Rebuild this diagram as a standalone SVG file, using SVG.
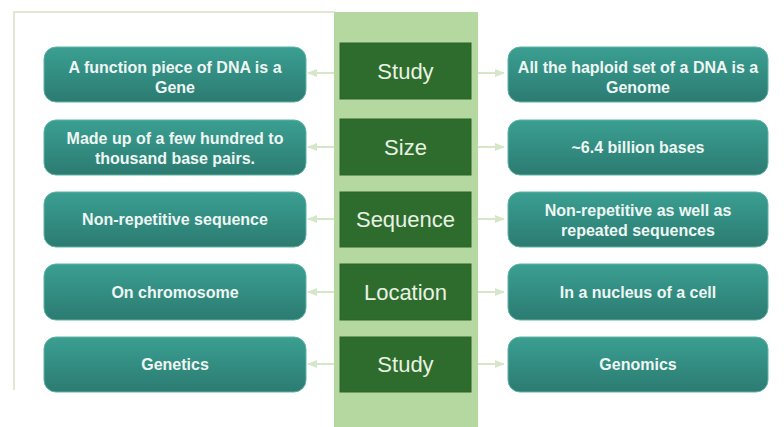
<svg xmlns="http://www.w3.org/2000/svg" width="784" height="427" viewBox="0 0 784 427">
<defs>
<linearGradient id="teal" x1="0" y1="0" x2="0" y2="1">
<stop offset="0" stop-color="#3a9f92"/>
<stop offset="1" stop-color="#2c7b71"/>
</linearGradient>
<marker id="ah" viewBox="0 0 10 10" refX="9" refY="5" markerWidth="5" markerHeight="5" orient="auto-start-reverse">
<path d="M0,1 L10,5 L0,9 z" fill="#d6e6c9"/>
</marker>
<style>
.teal{fill:url(#teal);stroke:#5fb3a5;stroke-width:1}
.dark{fill:#2e6c2e;stroke:#2a6229;stroke-width:1}
.tt{font-family:"Liberation Sans",Arial,sans-serif;font-size:16px;font-weight:bold;fill:#eef6f3;text-anchor:middle}
.dt{font-family:"Liberation Sans",Arial,sans-serif;font-size:22px;fill:#e8f2e2;text-anchor:middle}
.conn{stroke:#d6e6c9;stroke-width:2;fill:none;marker-end:url(#ah)}
</style>
</defs>
<rect width="784" height="427" fill="#ffffff"/>
<path d="M14,390 V12 H335" fill="none" stroke="#e2e6d2" stroke-width="2"/>
<rect x="334" y="12" width="144" height="415" fill="#b5d8a0"/>
<g id="connectors">
<line class="conn" x1="334" y1="73" x2="308" y2="73"/>
<line class="conn" x1="478" y1="73" x2="504" y2="73"/>
<line class="conn" x1="334" y1="147" x2="308" y2="147"/>
<line class="conn" x1="478" y1="147" x2="504" y2="147"/>
<line class="conn" x1="334" y1="219" x2="308" y2="219"/>
<line class="conn" x1="478" y1="219" x2="504" y2="219"/>
<line class="conn" x1="334" y1="292" x2="308" y2="292"/>
<line class="conn" x1="478" y1="292" x2="504" y2="292"/>
<line class="conn" x1="334" y1="364" x2="308" y2="364"/>
<line class="conn" x1="478" y1="364" x2="504" y2="364"/>
</g>
<g id="study1"><rect class="dark" x="340" y="43" width="131" height="56"/><text class="dt" x="405.5" y="79">Study</text></g>
<g id="size"><rect class="dark" x="340" y="119" width="131" height="56"/><text class="dt" x="405.5" y="155">Size</text></g>
<g id="sequence"><rect class="dark" x="340" y="192" width="131" height="55"/><text class="dt" x="405.5" y="227">Sequence</text></g>
<g id="location"><rect class="dark" x="340" y="264" width="131" height="56"/><text class="dt" x="405.5" y="300">Location</text></g>
<g id="study2"><rect class="dark" x="340" y="337" width="131" height="55"/><text class="dt" x="405.5" y="372">Study</text></g>
<g id="gene"><rect class="teal" x="44" y="47" width="262" height="55" rx="12"/><text class="tt" x="175" y="73">A function piece of DNA is a</text><text class="tt" x="175" y="93">Gene</text></g>
<g id="genesize"><rect class="teal" x="44" y="120" width="262" height="55" rx="12"/><text class="tt" x="175" y="144">Made up of a few hundred to</text><text class="tt" x="175" y="164">thousand base pairs.</text></g>
<g id="geneseq"><rect class="teal" x="44" y="192" width="262" height="55" rx="12"/><text class="tt" x="175" y="225">Non-repetitive sequence</text></g>
<g id="geneloc"><rect class="teal" x="44" y="264" width="262" height="56" rx="12"/><text class="tt" x="175" y="298">On chromosome</text></g>
<g id="genetics"><rect class="teal" x="44" y="337" width="262" height="55" rx="12"/><text class="tt" x="175" y="370">Genetics</text></g>
<g id="genome"><rect class="teal" x="508" y="47" width="260" height="55" rx="12"/><text class="tt" x="638" y="73">All the haploid set of a DNA is a</text><text class="tt" x="638" y="93">Genome</text></g>
<g id="genomesize"><rect class="teal" x="508" y="120" width="260" height="55" rx="12"/><text class="tt" x="638" y="153">~6.4 billion bases</text></g>
<g id="genomeseq"><rect class="teal" x="508" y="192" width="260" height="55" rx="12"/><text class="tt" x="638" y="216">Non-repetitive as well as</text><text class="tt" x="638" y="236">repeated sequences</text></g>
<g id="genomeloc"><rect class="teal" x="508" y="264" width="260" height="56" rx="12"/><text class="tt" x="638" y="298">In a nucleus of a cell</text></g>
<g id="genomics"><rect class="teal" x="508" y="337" width="260" height="55" rx="12"/><text class="tt" x="638" y="370">Genomics</text></g>
</svg>
